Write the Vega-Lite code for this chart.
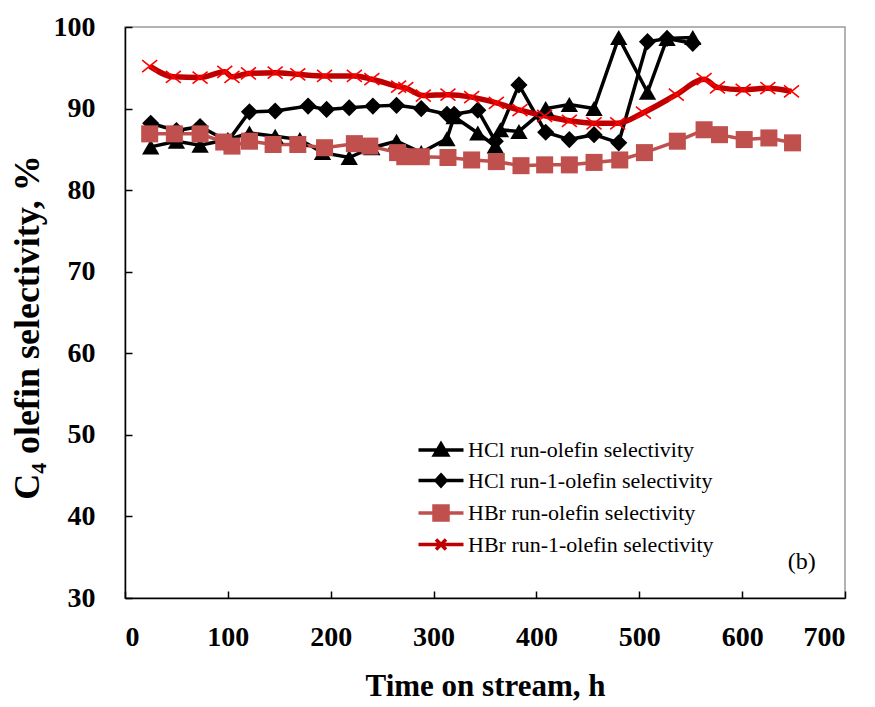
{
  "$schema": "https://vega.github.io/schema/vega-lite/v6.json",
  "width": 720,
  "height": 571,
  "autosize": {"type": "none"},
  "padding": {"left": 125, "top": 27, "right": 30, "bottom": 109},
  "background": "white",
  "config": {
    "font": "Liberation Serif",
    "view": {"stroke": "#9a9a9a", "strokeWidth": 1.5},
    "axis": {
      "grid": false,
      "domainColor": "black",
      "domainWidth": 1.5,
      "tickColor": "black",
      "tickWidth": 1.5,
      "tickSize": -7,
      "labelFont": "Liberation Serif",
      "labelFontSize": 28,
      "labelFontWeight": "bold",
      "labelColor": "black",
      "titleFont": "Liberation Serif",
      "titleFontSize": 31,
      "titleFontWeight": "bold",
      "titleColor": "black"
    }
  },
  "data": {
    "values": [
      {"series": "HCl run-olefin selectivity", "order": 1, "time": 25, "selectivity": 85.3},
      {"series": "HCl run-olefin selectivity", "order": 2, "time": 50, "selectivity": 86.0},
      {"series": "HCl run-olefin selectivity", "order": 3, "time": 73, "selectivity": 85.5},
      {"series": "HCl run-olefin selectivity", "order": 4, "time": 100, "selectivity": 86.2},
      {"series": "HCl run-olefin selectivity", "order": 5, "time": 121, "selectivity": 87.0},
      {"series": "HCl run-olefin selectivity", "order": 6, "time": 146, "selectivity": 86.6},
      {"series": "HCl run-olefin selectivity", "order": 7, "time": 170, "selectivity": 86.2},
      {"series": "HCl run-olefin selectivity", "order": 8, "time": 192, "selectivity": 84.6},
      {"series": "HCl run-olefin selectivity", "order": 9, "time": 218, "selectivity": 84.0},
      {"series": "HCl run-olefin selectivity", "order": 10, "time": 240, "selectivity": 85.2},
      {"series": "HCl run-olefin selectivity", "order": 11, "time": 264, "selectivity": 86.0},
      {"series": "HCl run-olefin selectivity", "order": 12, "time": 288, "selectivity": 84.6},
      {"series": "HCl run-olefin selectivity", "order": 13, "time": 313, "selectivity": 86.3},
      {"series": "HCl run-olefin selectivity", "order": 14, "time": 320, "selectivity": 89.0},
      {"series": "HCl run-olefin selectivity", "order": 15, "time": 343, "selectivity": 87.0},
      {"series": "HCl run-olefin selectivity", "order": 16, "time": 360, "selectivity": 85.4},
      {"series": "HCl run-olefin selectivity", "order": 17, "time": 365, "selectivity": 87.4},
      {"series": "HCl run-olefin selectivity", "order": 18, "time": 383, "selectivity": 87.2},
      {"series": "HCl run-olefin selectivity", "order": 19, "time": 409, "selectivity": 90.0},
      {"series": "HCl run-olefin selectivity", "order": 20, "time": 432, "selectivity": 90.5},
      {"series": "HCl run-olefin selectivity", "order": 21, "time": 456, "selectivity": 90.0},
      {"series": "HCl run-olefin selectivity", "order": 22, "time": 480, "selectivity": 98.7},
      {"series": "HCl run-olefin selectivity", "order": 23, "time": 508, "selectivity": 92.0},
      {"series": "HCl run-olefin selectivity", "order": 24, "time": 527, "selectivity": 98.6},
      {"series": "HCl run-olefin selectivity", "order": 25, "time": 552, "selectivity": 98.7},

      {"series": "HCl run-1-olefin selectivity", "order": 1, "time": 25, "selectivity": 88.2},
      {"series": "HCl run-1-olefin selectivity", "order": 2, "time": 50, "selectivity": 87.3},
      {"series": "HCl run-1-olefin selectivity", "order": 3, "time": 73, "selectivity": 87.8},
      {"series": "HCl run-1-olefin selectivity", "order": 4, "time": 100, "selectivity": 86.0},
      {"series": "HCl run-1-olefin selectivity", "order": 5, "time": 121, "selectivity": 89.6},
      {"series": "HCl run-1-olefin selectivity", "order": 6, "time": 146, "selectivity": 89.7},
      {"series": "HCl run-1-olefin selectivity", "order": 7, "time": 178, "selectivity": 90.3},
      {"series": "HCl run-1-olefin selectivity", "order": 8, "time": 196, "selectivity": 89.9},
      {"series": "HCl run-1-olefin selectivity", "order": 9, "time": 218, "selectivity": 90.1},
      {"series": "HCl run-1-olefin selectivity", "order": 10, "time": 241, "selectivity": 90.3},
      {"series": "HCl run-1-olefin selectivity", "order": 11, "time": 264, "selectivity": 90.4},
      {"series": "HCl run-1-olefin selectivity", "order": 12, "time": 288, "selectivity": 90.0},
      {"series": "HCl run-1-olefin selectivity", "order": 13, "time": 313, "selectivity": 89.3},
      {"series": "HCl run-1-olefin selectivity", "order": 14, "time": 320, "selectivity": 89.3},
      {"series": "HCl run-1-olefin selectivity", "order": 15, "time": 343, "selectivity": 89.8},
      {"series": "HCl run-1-olefin selectivity", "order": 16, "time": 360, "selectivity": 86.0},
      {"series": "HCl run-1-olefin selectivity", "order": 17, "time": 383, "selectivity": 92.9},
      {"series": "HCl run-1-olefin selectivity", "order": 18, "time": 409, "selectivity": 87.1},
      {"series": "HCl run-1-olefin selectivity", "order": 19, "time": 432, "selectivity": 86.2},
      {"series": "HCl run-1-olefin selectivity", "order": 20, "time": 456, "selectivity": 86.8},
      {"series": "HCl run-1-olefin selectivity", "order": 21, "time": 480, "selectivity": 85.8},
      {"series": "HCl run-1-olefin selectivity", "order": 22, "time": 508, "selectivity": 98.2},
      {"series": "HCl run-1-olefin selectivity", "order": 23, "time": 527, "selectivity": 98.6},
      {"series": "HCl run-1-olefin selectivity", "order": 24, "time": 552, "selectivity": 98.0},

      {"series": "HBr run-olefin selectivity", "order": 1, "time": 24, "selectivity": 86.9},
      {"series": "HBr run-olefin selectivity", "order": 2, "time": 48, "selectivity": 86.9},
      {"series": "HBr run-olefin selectivity", "order": 3, "time": 73, "selectivity": 86.9},
      {"series": "HBr run-olefin selectivity", "order": 4, "time": 96, "selectivity": 85.9},
      {"series": "HBr run-olefin selectivity", "order": 5, "time": 104, "selectivity": 85.4},
      {"series": "HBr run-olefin selectivity", "order": 6, "time": 121, "selectivity": 86.0},
      {"series": "HBr run-olefin selectivity", "order": 7, "time": 144, "selectivity": 85.6},
      {"series": "HBr run-olefin selectivity", "order": 8, "time": 168, "selectivity": 85.6},
      {"series": "HBr run-olefin selectivity", "order": 9, "time": 194, "selectivity": 85.2},
      {"series": "HBr run-olefin selectivity", "order": 10, "time": 223, "selectivity": 85.7},
      {"series": "HBr run-olefin selectivity", "order": 11, "time": 238, "selectivity": 85.4},
      {"series": "HBr run-olefin selectivity", "order": 12, "time": 265, "selectivity": 84.6},
      {"series": "HBr run-olefin selectivity", "order": 13, "time": 272, "selectivity": 84.1},
      {"series": "HBr run-olefin selectivity", "order": 14, "time": 288, "selectivity": 84.1},
      {"series": "HBr run-olefin selectivity", "order": 15, "time": 314, "selectivity": 84.0},
      {"series": "HBr run-olefin selectivity", "order": 16, "time": 337, "selectivity": 83.7},
      {"series": "HBr run-olefin selectivity", "order": 17, "time": 361, "selectivity": 83.5},
      {"series": "HBr run-olefin selectivity", "order": 18, "time": 385, "selectivity": 83.0},
      {"series": "HBr run-olefin selectivity", "order": 19, "time": 408, "selectivity": 83.1},
      {"series": "HBr run-olefin selectivity", "order": 20, "time": 432, "selectivity": 83.1},
      {"series": "HBr run-olefin selectivity", "order": 21, "time": 456, "selectivity": 83.4},
      {"series": "HBr run-olefin selectivity", "order": 22, "time": 481, "selectivity": 83.7},
      {"series": "HBr run-olefin selectivity", "order": 23, "time": 505, "selectivity": 84.6},
      {"series": "HBr run-olefin selectivity", "order": 24, "time": 537, "selectivity": 86.0},
      {"series": "HBr run-olefin selectivity", "order": 25, "time": 563, "selectivity": 87.4},
      {"series": "HBr run-olefin selectivity", "order": 26, "time": 578, "selectivity": 86.8},
      {"series": "HBr run-olefin selectivity", "order": 27, "time": 602, "selectivity": 86.2},
      {"series": "HBr run-olefin selectivity", "order": 28, "time": 626, "selectivity": 86.4},
      {"series": "HBr run-olefin selectivity", "order": 29, "time": 649, "selectivity": 85.8},

      {"series": "HBr run-1-olefin selectivity", "order": 1, "time": 24, "selectivity": 95.2},
      {"series": "HBr run-1-olefin selectivity", "order": 2, "time": 47, "selectivity": 93.9},
      {"series": "HBr run-1-olefin selectivity", "order": 3, "time": 73, "selectivity": 93.8},
      {"series": "HBr run-1-olefin selectivity", "order": 4, "time": 97, "selectivity": 94.5},
      {"series": "HBr run-1-olefin selectivity", "order": 5, "time": 104, "selectivity": 93.9},
      {"series": "HBr run-1-olefin selectivity", "order": 6, "time": 120, "selectivity": 94.3},
      {"series": "HBr run-1-olefin selectivity", "order": 7, "time": 146, "selectivity": 94.4},
      {"series": "HBr run-1-olefin selectivity", "order": 8, "time": 168, "selectivity": 94.2},
      {"series": "HBr run-1-olefin selectivity", "order": 9, "time": 194, "selectivity": 94.0},
      {"series": "HBr run-1-olefin selectivity", "order": 10, "time": 223, "selectivity": 94.0},
      {"series": "HBr run-1-olefin selectivity", "order": 11, "time": 240, "selectivity": 93.6},
      {"series": "HBr run-1-olefin selectivity", "order": 12, "time": 266, "selectivity": 92.7},
      {"series": "HBr run-1-olefin selectivity", "order": 13, "time": 273, "selectivity": 92.5},
      {"series": "HBr run-1-olefin selectivity", "order": 14, "time": 290, "selectivity": 91.6},
      {"series": "HBr run-1-olefin selectivity", "order": 15, "time": 314, "selectivity": 91.7},
      {"series": "HBr run-1-olefin selectivity", "order": 16, "time": 337, "selectivity": 91.4},
      {"series": "HBr run-1-olefin selectivity", "order": 17, "time": 361, "selectivity": 90.7},
      {"series": "HBr run-1-olefin selectivity", "order": 18, "time": 384, "selectivity": 89.8},
      {"series": "HBr run-1-olefin selectivity", "order": 19, "time": 408, "selectivity": 89.1},
      {"series": "HBr run-1-olefin selectivity", "order": 20, "time": 432, "selectivity": 88.5},
      {"series": "HBr run-1-olefin selectivity", "order": 21, "time": 456, "selectivity": 88.2},
      {"series": "HBr run-1-olefin selectivity", "order": 22, "time": 479, "selectivity": 88.2},
      {"series": "HBr run-1-olefin selectivity", "order": 23, "time": 504, "selectivity": 89.5},
      {"series": "HBr run-1-olefin selectivity", "order": 24, "time": 536, "selectivity": 91.7},
      {"series": "HBr run-1-olefin selectivity", "order": 25, "time": 563, "selectivity": 93.6},
      {"series": "HBr run-1-olefin selectivity", "order": 26, "time": 576, "selectivity": 92.6},
      {"series": "HBr run-1-olefin selectivity", "order": 27, "time": 601, "selectivity": 92.3},
      {"series": "HBr run-1-olefin selectivity", "order": 28, "time": 625, "selectivity": 92.5},
      {"series": "HBr run-1-olefin selectivity", "order": 29, "time": 648, "selectivity": 92.1}
    ]
  },
  "encoding": {
    "x": {
      "field": "time", "type": "quantitative",
      "scale": {"domain": [0, 700], "nice": false},
      "axis": {"values": [0, 100, 200, 300, 400, 500, 600, 700], "labelPadding": 32, "title": "Time on stream, h", "titlePadding": 20}
    },
    "y": {
      "field": "selectivity", "type": "quantitative",
      "scale": {"domain": [30, 100], "nice": false, "zero": false},
      "axis": {"values": [30, 40, 50, 60, 70, 80, 90, 100], "labelPadding": 37, "title": "C₄ olefin selectivity, %", "titleFontSize": 36, "titlePadding": 7, "titleY": 300}
    }
  },
  "layer": [
    {
      "transform": [{"filter": "datum.series != 'HBr run-1-olefin selectivity'"}],
      "mark": {"type": "line"},
      "encoding": {
        "detail": {"field": "series"},
        "order": {"field": "order", "type": "quantitative"},
        "color": {
          "field": "series", "type": "nominal",
          "scale": {
            "domain": ["HCl run-olefin selectivity", "HCl run-1-olefin selectivity", "HBr run-olefin selectivity", "HBr run-1-olefin selectivity"],
            "range": ["#000000", "#000000", "#C0504D", "#C00000"]
          },
          "legend": {
            "title": null,
            "orient": "none",
            "legendX": 304,
            "legendY": 411,
            "labelFont": "Liberation Serif",
            "labelFontSize": 22,
            "labelColor": "black",
            "labelLimit": 0,
            "labelOffset": 15,
            "symbolSize": 400,
            "rowPadding": 5.5,
            "symbolOpacity": 1,
            "encode": {
              "symbols": {
                "update": {
                  "shape": {"signal": "datum.value == 'HCl run-olefin selectivity' ? 'M-2.25,0H2.25M0,-0.6L0.65,0.5L-0.65,0.5Z' : datum.value == 'HCl run-1-olefin selectivity' ? 'M-2.25,0H2.25M0,-0.55L0.5,0L0,0.55L-0.5,0Z' : datum.value == 'HBr run-olefin selectivity' ? 'M-2.25,0H2.25M-0.7,-0.7H0.7V0.7H-0.7Z' : 'M-2.25,0H2.25M-0.5,-0.5L0.5,0.5M-0.5,0.5L0.5,-0.5'"},
                  "fill": {"signal": "datum.value == 'HBr run-1-olefin selectivity' ? 'transparent' : datum.value == 'HBr run-olefin selectivity' ? '#C0504D' : '#000000'"},
                  "stroke": {"signal": "datum.value == 'HBr run-1-olefin selectivity' ? '#C00000' : datum.value == 'HBr run-olefin selectivity' ? '#C0504D' : '#000000'"},
                  "strokeWidth": {"signal": "datum.value == 'HBr run-1-olefin selectivity' ? 4 : datum.value == 'HBr run-olefin selectivity' ? 5 : 3.5"},
                  "opacity": {"value": 1}
                }
              }
            }
          }
        },
        "strokeWidth": {
          "field": "series", "type": "nominal",
          "scale": {
            "domain": ["HCl run-olefin selectivity", "HCl run-1-olefin selectivity", "HBr run-olefin selectivity", "HBr run-1-olefin selectivity"],
            "range": [3.5, 3.5, 5, 5.5]
          },
          "legend": null
        }
      }
    },
    {
      "transform": [{"filter": "datum.series == 'HBr run-1-olefin selectivity'"}],
      "mark": {"type": "line", "interpolate": "monotone", "strokeWidth": 5.5},
      "encoding": {
        "order": {"field": "order", "type": "quantitative"},
        "color": {"field": "series", "type": "nominal"}
      }
    },
    {
      "transform": [{"filter": "datum.series != 'HBr run-1-olefin selectivity'"}],
      "mark": {"type": "point", "filled": true, "opacity": 1},
      "encoding": {
        "shape": {
          "field": "series", "type": "nominal",
          "scale": {
            "domain": ["HCl run-olefin selectivity", "HCl run-1-olefin selectivity", "HBr run-olefin selectivity"],
            "range": ["triangle-up", "diamond", "square"]
          },
          "legend": null
        },
        "size": {
          "field": "series", "type": "nominal",
          "scale": {
            "domain": ["HCl run-olefin selectivity", "HCl run-1-olefin selectivity", "HBr run-olefin selectivity"],
            "range": [300, 290, 280]
          },
          "legend": null
        },
        "color": {"field": "series", "type": "nominal", "legend": null}
      }
    },
    {
      "transform": [{"filter": "datum.series == 'HBr run-1-olefin selectivity'"}],
      "mark": {"type": "point", "filled": false, "shape": "M-1,-0.8L1,0.8M-1,0.8L1,-0.8", "size": 225, "stroke": "#FF0000", "strokeWidth": 1.6, "opacity": 1},
      "encoding": {}
    },
    {
      "transform": [{"filter": "datum.series == 'HBr run-1-olefin selectivity' && datum.order == 29"}],
      "mark": {"type": "text", "font": "Liberation Serif", "fontSize": 24, "fill": "black", "align": "center", "baseline": "middle"},
      "encoding": {
        "x": {"datum": 658},
        "y": {"datum": 34.4},
        "text": {"value": "(b)"}
      }
    }
  ]
}
